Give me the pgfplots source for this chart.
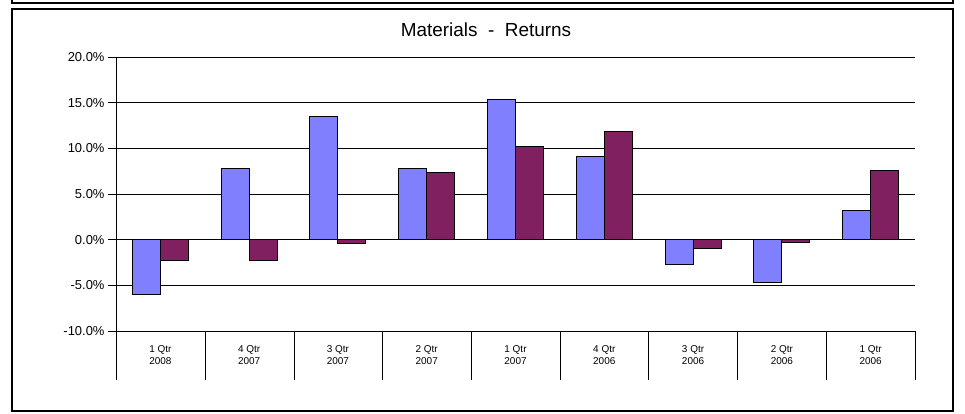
\documentclass[border=0pt]{standalone}
\usepackage{pgfplots}
\pgfplotsset{compat=1.18}
\usepackage{fontspec}
\setmainfont{Liberation Sans}
\definecolor{cblue}{HTML}{8080FF}
\definecolor{cmaroon}{HTML}{802060}
\begin{document}
\begin{tikzpicture}[x=1bp,y=1bp]
\path[use as bounding box] (0,0) rectangle (965,413);
\draw[line width=2.2bp] (12,430) -- (12,410) -- (953,410) -- (953,430);
\draw[line width=2.2bp] (12,2) rectangle (953,404);
\node[font=\fontsize{19}{22}\selectfont] at (486,383) {Materials\ \ -\ \ Returns};
\begin{axis}[
  at={(116bp,82bp)}, anchor=south west, scale only axis,
  width=799bp, height=274bp,
  ymin=-10, ymax=20, ytick={-10,-5,0,5,10,15,20},
  yticklabel={\pgfmathprintnumber[fixed,fixed zerofill,precision=1]{\tick}\%},
  /pgf/number format/assume math mode=true,
  ymajorgrids, grid style={black,line width=0.6bp},
  xmin=-0.5, xmax=8.5,
  xtick={0,...,8},
  xticklabels={{1 Qtr\\2008},{4 Qtr\\2007},{3 Qtr\\2007},{2 Qtr\\2007},{1 Qtr\\2007},{4 Qtr\\2006},{3 Qtr\\2006},{2 Qtr\\2006},{1 Qtr\\2006}},
  x tick label style={align=center, font=\fontsize{10}{12}\selectfont, yshift=-3bp},
  y tick label style={font=\fontsize{13}{15}\selectfont},
  major x tick style={draw=none},
  major y tick style={black,line width=0.6bp},
  major tick length=8bp,
  tick align=outside,
  axis lines*=left,
  x axis line style={draw=none},
  y axis line style={black,line width=0.6bp},
  ybar=0pt, bar width=28bp,
  clip=false,
]
\addplot[fill=cblue, draw=black, line width=1.1bp] coordinates {(0,-6.0) (1,7.8) (2,13.5) (3,7.8) (4,15.3) (5,9.1) (6,-2.7) (7,-4.7) (8,3.2)};
\addplot[fill=cmaroon, draw=black, line width=1.1bp] coordinates {(0,-2.3) (1,-2.3) (2,-0.4) (3,7.4) (4,10.2) (5,11.8) (6,-1.0) (7,-0.3) (8,7.6)};
\end{axis}
\foreach \x in {116,205,294,382,471,560,648,737,826,915} \draw[line width=0.6bp] (\x,82) -- (\x,33);
\end{tikzpicture}
\end{document}
